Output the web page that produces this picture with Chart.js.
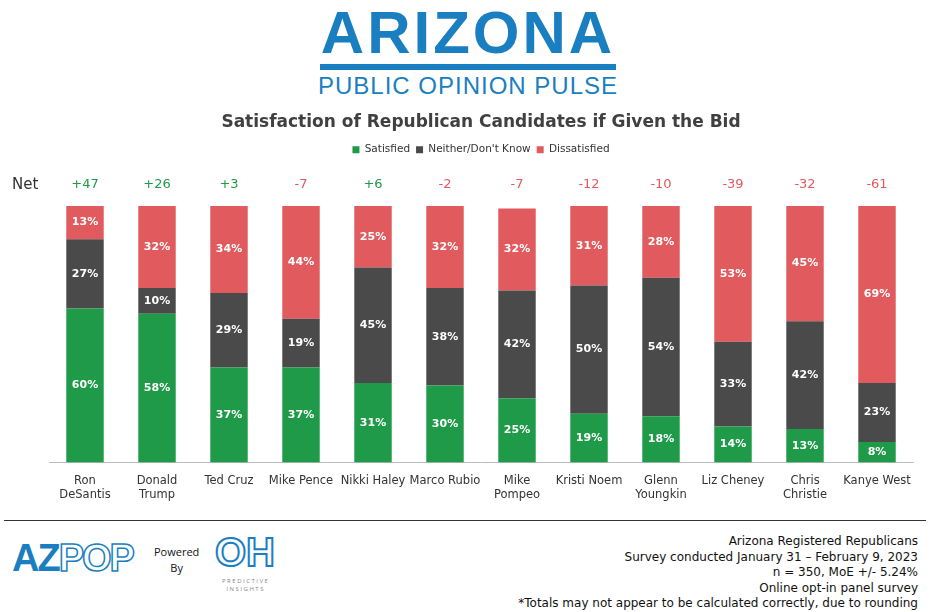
<!DOCTYPE html>
<html>
<head>
<meta charset="utf-8">
<script src="https://cdn.jsdelivr.net/npm/chart.js@4"></script>
<style>
  body { margin: 0; width: 936px; height: 612px; background: #fff; font-family: "DejaVu Sans", sans-serif; position: relative; overflow: hidden; }
  #logo { position: absolute; top: 2px; left: 0; width: 936px; text-align: center; color: #1a7fc1; }
  #logo .big { font: bold 60px "Liberation Sans", sans-serif; letter-spacing: 3px; line-height: 62px; }
  #logo .bar { width: 296px; height: 6px; background: #1a7fc1; margin: 0 auto; }
  #logo .small { font: 24px "Liberation Sans", sans-serif; letter-spacing: 1px; margin-top: 2px; }
  #wrap { position: absolute; top: 104px; left: 0; width: 936px; height: 402px; }
  #rule { position: absolute; top: 520px; left: 4px; width: 922px; height: 1px; background: #333; }
  #az { position: absolute; top: 537px; left: 12px; font: bold 38px "Liberation Sans", sans-serif; color: #1a7fc1; letter-spacing: -2px; }
  #az span { color: #fff; -webkit-text-stroke: 1.5px #1a7fc1; }
  #pow { position: absolute; top: 544px; left: 154px; font: 11px "Open Sans", sans-serif; text-align: center; line-height: 16px; color: #111; }
  #oh { position: absolute; top: 530px; left: 215px; font: bold 40px "Liberation Sans", sans-serif; color: #fff; -webkit-text-stroke: 2px #1a7fc1; }
  #pi { position: absolute; top: 577px; left: 222px; font: 6px "Open Sans", sans-serif; color: #888; letter-spacing: 1.5px; text-align: center; line-height: 8px; }
  #notes { position: absolute; top: 534px; right: 18px; text-align: right; font: 12px "DejaVu Sans", sans-serif; line-height: 15.5px; color: #111; }
</style>
</head>
<body>
<div id="logo"><div class="big">ARIZONA</div><div class="bar"></div><div class="small">PUBLIC OPINION PULSE</div></div>
<div id="wrap"><canvas id="chart" width="936" height="402"></canvas></div>
<div id="rule"></div>
<div id="az">AZ<span>POP</span></div>
<div id="pow">Powered<br>By</div>
<div id="oh">OH</div>
<div id="pi">PREDICTIVE<br>INSIGHTS</div>
<div id="notes">Arizona Registered Republicans<br>Survey conducted January 31 – February 9, 2023<br>n = 350, MoE +/- 5.24%<br>Online opt-in panel survey<br>*Totals may not appear to be calculated correctly, due to rounding</div>
<script>
const candidates = [["Ron", "DeSantis"], ["Donald", "Trump"], "Ted Cruz", "Mike Pence", "Nikki Haley", "Marco Rubio",
  ["Mike", "Pompeo"], "Kristi Noem", ["Glenn", "Youngkin"], "Liz Cheney", ["Chris", "Christie"], "Kanye West"];
const satisfied = [60, 58, 37, 37, 31, 30, 25, 19, 18, 14, 13, 8];
const neither = [27, 10, 29, 19, 45, 38, 42, 50, 54, 33, 42, 23];
const dissatisfied = [13, 32, 34, 44, 25, 32, 32, 31, 28, 53, 45, 69];
const net = [47, 26, 3, -7, 6, -2, -7, -12, -10, -39, -32, -61];

// Net row above the bars
const netRow = {
  id: "netRow",
  afterDraw(chart) {
    const ctx = chart.ctx, x = chart.scales.x;
    ctx.save();
    ctx.font = "15px 'DejaVu Sans'";
    ctx.textAlign = "left";
    ctx.textBaseline = "middle";
    ctx.fillStyle = "#333";
    ctx.fillText("Net", 12, 81);
    ctx.font = "13px 'DejaVu Sans'";
    ctx.textAlign = "center";
    net.forEach((v, i) => {
      ctx.fillStyle = v > 0 ? "#1f9a48" : "#e05a5e";
      ctx.fillText((v > 0 ? "+" : "") + v, x.getPixelForValue(i), 81);
    });
    ctx.restore();
  }
};

// Percent labels inside segments
const segLabels = {
  id: "segLabels",
  afterDatasetsDraw(chart) {
    const ctx = chart.ctx;
    ctx.save();
    ctx.font = "bold 11px 'DejaVu Sans'";
    ctx.fillStyle = "#fff";
    ctx.textAlign = "center";
    ctx.textBaseline = "middle";
    chart.data.datasets.forEach((ds, di) => {
      chart.getDatasetMeta(di).data.forEach((bar, i) => {
        const top = Math.max(bar.y, chart.chartArea.top);
        ctx.fillText(ds.data[i] + "%", bar.x, (top + bar.base) / 2);
      });
    });
    ctx.restore();
  }
};

// extra space under the legend for the Net row
const legendGap = {
  id: "legendGap",
  beforeInit(chart) {
    const orig = chart.legend.fit;
    chart.legend.fit = function () { orig.call(this); this.height += 41; };
  }
};

new Chart(document.getElementById("chart"), {
  type: "bar",
  data: {
    labels: candidates,
    datasets: [
      { label: "Satisfied", data: satisfied, backgroundColor: "#1f9a48" },
      { label: "Neither/Don't Know", data: neither, backgroundColor: "#4a4a4a" },
      { label: "Dissatisfied", data: dissatisfied, backgroundColor: "#e05a5e" }
    ]
  },
  options: {
    responsive: false,
    animation: false,
    layout: { padding: { left: 49, right: 23, top: 8, bottom: 0 } },
    datasets: { bar: { barPercentage: 0.52, categoryPercentage: 1 } },
    plugins: {
      title: { display: true, text: "Satisfaction of Republican Candidates if Given the Bid",
        color: "#404040", font: { family: "DejaVu Sans", size: 17, weight: "bold" }, padding: { top: 0, bottom: 6 } },
      legend: { labels: { boxWidth: 7, boxHeight: 7, color: "#333", font: { family: "DejaVu Sans", size: 10.5 }, padding: 6 } },
      tooltip: { enabled: false }
    },
    scales: {
      x: { stacked: true, grid: { display: false }, border: { color: "#bbb" },
        ticks: { color: "#333", font: { family: "DejaVu Sans", size: 11.5 }, maxRotation: 0, autoSkip: false, padding: 4 } },
      y: { stacked: true, min: 0, max: 100, display: false }
    }
  },
  plugins: [netRow, segLabels, legendGap]
});
</script>
</body>
</html>
